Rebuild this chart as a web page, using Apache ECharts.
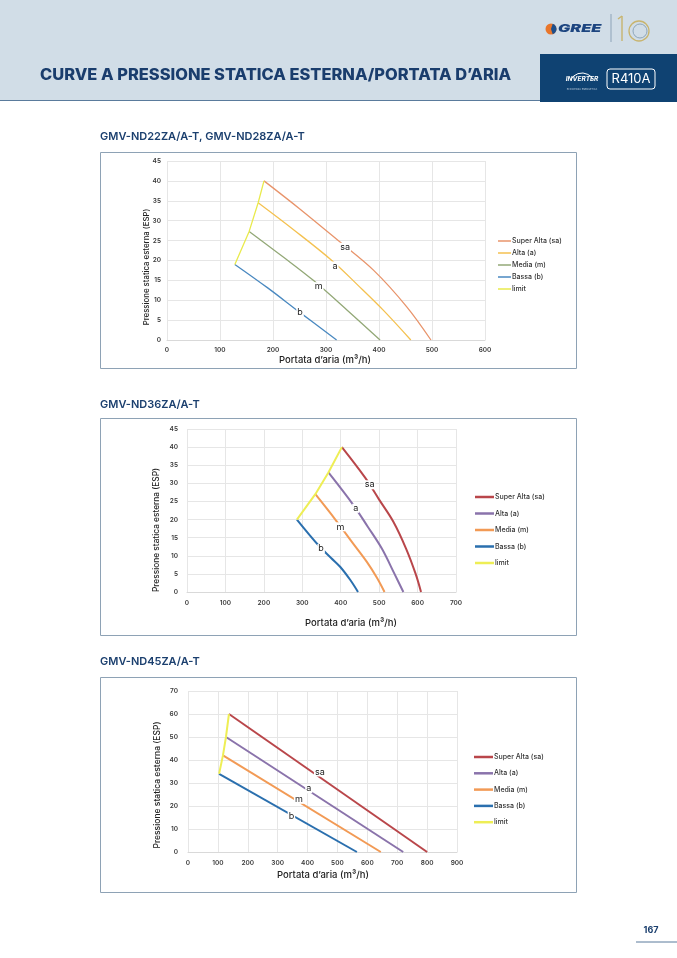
<!DOCTYPE html>
<html>
<head>
<meta charset="utf-8">
<script src="https://cdn.jsdelivr.net/npm/echarts@6/dist/echarts.min.js"></script>
<style>
html,body{margin:0;padding:0;background:#fff}
#chart{width:677px;height:958px}
</style>
</head>
<body>
<div id="chart"></div>
<script>
// nomi delle serie (uguali nei tre grafici)
const seriesNames = ['Super Alta (sa)', 'Alta (a)', 'Media (m)', 'Bassa (b)', 'limit'];
const lineTags = ['sa', 'a', 'm', 'b'];

// GMV-ND22ZA/A-T, GMV-ND28ZA/A-T  [portata m3/h, pressione Pa]
const c1Sa = [[183, 40], [250, 33], [323, 25], [390, 17.5], [452, 8.4], [498, 0]];
const c1A = [[172, 34.5], [240, 27.6], [311, 20], [360, 13.8], [408, 7.5], [460, 0]];
const c1M = [[155, 27.3], [220, 20.8], [276, 15], [340, 7.5], [402, 0]];
const c1B = [[128, 19], [190, 13.1], [248, 7.2], [320, 0]];
const c1Limit = [[128, 19], [155, 27.3], [172, 34.5], [183, 40]];
const c1Tags = [[336, 23.3], [317, 18.6], [286, 13.4], [251, 7]];

// GMV-ND36ZA/A-T
const c2Sa = [[403, 40], [464, 31.5], [500, 25.5], [537, 19.4], [570, 12], [595, 5], [609, 0]];
const c2A = [[368, 33], [433, 24], [470, 18.1], [507, 12], [540, 5], [563, 0]];
const c2M = [[334, 27], [386, 20], [430, 13.7], [468, 8.3], [495, 3.8], [514, 0]];
const c2B = [[286, 20], [342, 12.9], [375, 9.4], [399, 6.9], [425, 3.3], [445, 0]];
const c2Limit = [[286, 20], [334, 27], [368, 33], [403, 40]];
const c2Tags = [[475, 29.6], [439, 23.1], [399, 18], [349, 12]];

// GMV-ND45ZA/A-T
const c3Sa = [[137, 60], [800, 0]];
const c3A = [[127, 50], [720, 0]];
const c3M = [[117, 42], [645, 0]];
const c3B = [[104, 34], [565, 0]];
const c3Limit = [[104, 34], [117, 42], [127, 50], [137, 60]];
const c3Tags = [[441, 34.8], [404, 27.5], [371, 22.9], [346, 15.7]];

// assi
const xMax = [600, 700, 900];
const yMax = [45, 45, 70];
const yStep = [5, 5, 10];
const xStep = 100;

const titles = ['GMV-ND22ZA/A-T, GMV-ND28ZA/A-T', 'GMV-ND36ZA/A-T', 'GMV-ND45ZA/A-T'];

const colors1 = ['#e8946b', '#f4c150', '#93a877', '#4a89c0', '#e9ea4c'];
const colors2 = ['#b9464a', '#8a73ab', '#f29a55', '#2a6fae', '#eeee55'];

const font = 'Inter, "Noto Sans", sans-serif';
const navy = '#1b3f6e';

let myChart = echarts.init(document.getElementById('chart'));

function buildSeries(k, curves, tags, colors, width, smooth) {
	return curves.map(function(pts, i) {
		let s = {
			name: seriesNames[i],
			type: 'line',
			xAxisIndex: k,
			yAxisIndex: k,
			data: pts,
			symbol: 'none',
			smooth: (i < 4 && smooth) ? 0.35 : false,
			silent: true,
			z: i == 4 ? 3 : 2,
			lineStyle: { color: colors[i], width: width },
			itemStyle: { color: colors[i] }
		};
		if (i < 4) {
			s.markPoint = {
				silent: true,
				symbol: 'rect',
				symbolSize: 1,
				itemStyle: { color: 'rgba(0,0,0,0)' },
				label: {
					show: true, position: 'inside', formatter: '{b}',
					color: '#222', fontFamily: font, fontSize: 9,
					backgroundColor: '#fff', padding: [0, 1]
				},
				data: [{ name: lineTags[i], coord: tags[i] }]
			};
		}
		return s;
	});
}

function buildLegend(k, left, top, gap, iconW, iconH, colors) {
	return {
		orient: 'vertical', left: left, top: top, padding: 0,
		icon: 'rect', itemWidth: iconW, itemHeight: iconH, itemGap: gap,
		selectedMode: false,
		textStyle: { fontFamily: font, fontSize: 7, fontWeight: 500, color: '#333', lineHeight: 8, padding: [0, 0, 0, -4] },
		data: seriesNames.map(function(n, i) {
			return { name: n, itemStyle: { color: colors[i], borderWidth: 0 } };
		})
	};
}

let grids = [
	{ left: 167, top: 161, width: 318, height: 179 },
	{ left: 187, top: 429, width: 269, height: 163 },
	{ left: 188, top: 691, width: 269, height: 161 }
];
let labelMargin = [[7, 6], [8, 9], [8, 10]];

let xAxes = [], yAxes = [];
for (let k = 0; k < 3; k++) {
	xAxes.push({
		type: 'value', gridIndex: k, min: 0, max: xMax[k], interval: xStep,
		axisLine: { show: true, lineStyle: { color: '#d9d9d9' } },
		axisTick: { show: false },
		splitLine: { lineStyle: { color: '#e6e6e6' } },
		axisLabel: { fontFamily: font, fontSize: 6.5, fontWeight: 600, color: '#3a3a3a', margin: labelMargin[k][0] }
	});
	yAxes.push({
		type: 'value', gridIndex: k, min: 0, max: yMax[k], interval: yStep[k],
		axisLine: { show: false },
		axisTick: { show: false },
		splitLine: { lineStyle: { color: '#e6e6e6' } },
		axisLabel: { fontFamily: font, fontSize: 6.5, fontWeight: 600, color: '#3a3a3a', margin: labelMargin[k][1] }
	});
}

let series = [].concat(
	buildSeries(0, [c1Sa, c1A, c1M, c1B, c1Limit], c1Tags, colors1, 1.3, true),
	buildSeries(1, [c2Sa, c2A, c2M, c2B, c2Limit], c2Tags, colors2, 2, true),
	buildSeries(2, [c3Sa, c3A, c3M, c3B, c3Limit], c3Tags, colors2, 2, false)
);

function axisText(x, y, text, rot, size) {
	return {
		type: 'text', x: x, y: y, rotation: rot,
		style: { text: text, textAlign: 'center', textVerticalAlign: 'middle', fontFamily: font, fontSize: size, fontWeight: 500, fill: '#222' }
	};
}

let graphics = [
	// testata
	{ type: 'rect', shape: { x: 0, y: 0, width: 677, height: 100 }, style: { fill: '#d1dde7' } },
	{ type: 'line', shape: { x1: 0, y1: 100.5, x2: 540, y2: 100.5 }, style: { stroke: '#5a7b9c', lineWidth: 1 } },
	{ type: 'rect', shape: { x: 540, y: 54, width: 137, height: 48 }, style: { fill: '#0f4272' } },
	{ type: 'text', x: 40, y: 75, scaleX: 1.06, style: { text: 'CURVE A PRESSIONE STATICA ESTERNA/PORTATA D\u2019ARIA', textVerticalAlign: 'middle', fontFamily: font, fontSize: 15.5, fontWeight: 800, fill: '#1a3d6d' } },
	// logo GREE
	{ type: 'circle', shape: { cx: 551, cy: 29, r: 5.5 }, style: { fill: '#e9762b' } },
	{ type: 'sector', shape: { cx: 551, cy: 29, r: 5.5, r0: 0, startAngle: -Math.PI * 0.4, endAngle: Math.PI * 0.4 }, style: { fill: '#1d4f8c' } },
	{ type: 'text', x: 558, y: 29, scaleX: 1.55, style: { text: 'GREE', textVerticalAlign: 'middle', fontFamily: font, fontSize: 10.5, fontWeight: 900, fontStyle: 'italic', fill: '#1d4580' } },
	{ type: 'line', shape: { x1: 611, y1: 14, x2: 611, y2: 42 }, style: { stroke: '#8da3b8', lineWidth: 1 } },
	{ type: 'line', shape: { x1: 622, y1: 16, x2: 622, y2: 41 }, style: { stroke: '#c8b46e', lineWidth: 1.4 } },
	{ type: 'line', shape: { x1: 618, y1: 19, x2: 622, y2: 16 }, style: { stroke: '#c8b46e', lineWidth: 1.4 } },
	{ type: 'circle', shape: { cx: 639, cy: 31, r: 10 }, style: { fill: 'none', stroke: '#c8b46e', lineWidth: 1.3 } },
	{ type: 'circle', shape: { cx: 640, cy: 31, r: 7 }, style: { fill: 'none', stroke: '#8ea6ba', lineWidth: 1 } },
	// loghi inverter / R410A
	{ type: 'arc', shape: { cx: 582, cy: 86, r: 13, startAngle: Math.PI * 1.15, endAngle: Math.PI * 1.85 }, style: { stroke: '#fff', lineWidth: 1, fill: 'none' } },
	{ type: 'text', x: 582, y: 79, style: { text: 'INVERTER', textAlign: 'center', textVerticalAlign: 'middle', fontFamily: font, fontSize: 6.5, fontWeight: 700, fontStyle: 'italic', fill: '#fff' } },
	{ type: 'text', x: 582, y: 89, style: { text: 'EFFICIENZA ENERGETICA', textAlign: 'center', textVerticalAlign: 'middle', fontFamily: font, fontSize: 2.5, fill: '#b8c8d8' } },
	{ type: 'rect', shape: { x: 607, y: 69, width: 48, height: 20, r: 3 }, style: { fill: 'none', stroke: '#fff', lineWidth: 1 } },
	{ type: 'text', x: 631, y: 79.5, style: { text: 'R410A', textAlign: 'center', textVerticalAlign: 'middle', fontFamily: font, fontSize: 13, fontWeight: 400, fill: '#fff' } },
	// riquadri dei grafici
	{ type: 'rect', shape: { x: 100.5, y: 152.5, width: 476, height: 216 }, style: { fill: 'none', stroke: '#8ea2b5', lineWidth: 1 } },
	{ type: 'rect', shape: { x: 100.5, y: 418.5, width: 476, height: 217 }, style: { fill: 'none', stroke: '#8ea2b5', lineWidth: 1 } },
	{ type: 'rect', shape: { x: 100.5, y: 677.5, width: 476, height: 215 }, style: { fill: 'none', stroke: '#8ea2b5', lineWidth: 1 } },
	// numero pagina
	{ type: 'text', x: 651, y: 930, style: { text: '167', textAlign: 'center', textVerticalAlign: 'middle', fontFamily: font, fontSize: 9, fontWeight: 700, fill: navy } },
	{ type: 'line', shape: { x1: 636, y1: 942, x2: 677, y2: 942 }, style: { stroke: '#5a7b9c', lineWidth: 1 } }
];

let titleY = [137, 405, 662];
for (let k = 0; k < 3; k++) {
	graphics.push({ type: 'text', x: 100, y: titleY[k], style: { text: titles[k], textVerticalAlign: 'middle', fontFamily: font, fontSize: 11, fontWeight: 600, fill: navy } });
}
let yNamePos = [[147, 267], [157, 530], [157, 785]];
let yNameSize = [7.8, 8.3, 8.5];
let xNamePos = [[325, 360], [351, 623], [323, 875]];
for (let k = 0; k < 3; k++) {
	graphics.push(axisText(yNamePos[k][0], yNamePos[k][1], 'Pressione statica esterna (ESP)', Math.PI / 2, yNameSize[k]));
	graphics.push(axisText(xNamePos[k][0], xNamePos[k][1], 'Portata d\u2019aria (m\u00b3/h)', 0, 9.5));
}

let option = {
	animation: false,
	backgroundColor: '#fff',
	textStyle: { fontFamily: font },
	grid: grids,
	xAxis: xAxes,
	yAxis: yAxes,
	legend: [
		buildLegend(0, 498, 237, 4, 13, 1.5, colors1),
		buildLegend(1, 475, 493, 8.5, 19, 2.5, colors2),
		buildLegend(2, 474, 753, 8.3, 19, 2.5, colors2)
	],
	graphic: graphics,
	series: series
};
myChart.setOption(option);
</script>
</body>
</html>
